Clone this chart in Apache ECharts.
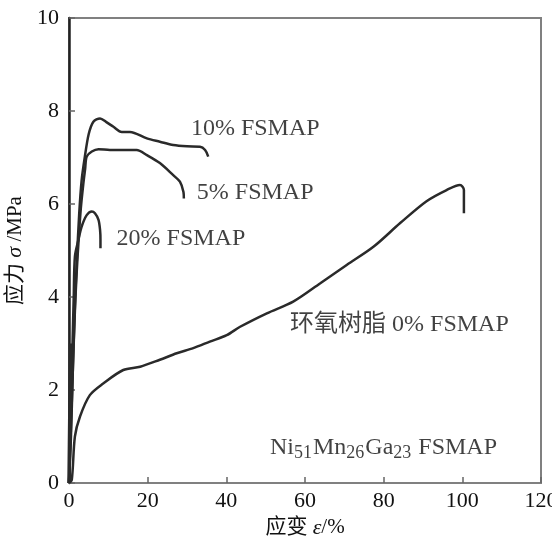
<!DOCTYPE html>
<html>
<head>
<meta charset="utf-8">
<script src="https://cdn.jsdelivr.net/npm/echarts@6/dist/echarts.min.js"></script>
<style>
html, body { margin: 0; padding: 0; background: #fff; }
#main { width: 552px; height: 547px; }
</style>
</head>
<body>
<div id="main"></div>
<script>
// 坐标轴刻度
var xTicks = [0, 20, 40, 60, 80, 100, 120];
var yTicks = [0, 2, 4, 6, 8, 10];

// 应力-应变曲线 [应变 %, 应力 MPa]
var curve10 = [[0,0],[0.5,1.0],[1,2.5],[1.5,3.8],[2,4.8],[2.6,5.8],[3.2,6.5],[4,7.0],[5,7.5],[6.2,7.77],[7.9,7.84],[9.5,7.76],[11.3,7.66],[13.4,7.55],[15.5,7.55],[19.8,7.41],[23.1,7.34],[26.5,7.27],[30,7.24],[33.3,7.23],[34.6,7.16],[35.4,7.02]];
var curve5 = [[0,0],[0.5,1.2],[1,2.5],[1.5,3.7],[2,4.6],[2.5,5.3],[3,5.9],[3.6,6.4],[4.1,6.75],[4.5,7.02],[5.8,7.13],[7.5,7.18],[10.4,7.16],[14.7,7.16],[17.2,7.16],[19.8,7.05],[23.1,6.88],[26.5,6.62],[28.2,6.48],[29.1,6.26],[29.2,6.12]];
var curve20 = [[0,0],[0.3,1.0],[0.6,2.0],[0.9,3.0],[1.2,4.0],[1.5,4.87],[2.4,5.23],[3.2,5.51],[4.5,5.76],[5.8,5.84],[6.6,5.80],[7.5,5.66],[7.9,5.44],[8.0,5.23],[8.0,5.05]];
var curve0 = [[0,0],[0.7,0.06],[1.5,1.0],[2.8,1.43],[5.3,1.89],[8.7,2.14],[13.8,2.43],[18.1,2.50],[23.1,2.65],[27.4,2.79],[31.6,2.90],[35.8,3.04],[40.1,3.18],[43.5,3.36],[50.3,3.65],[57.0,3.90],[63.8,4.29],[70.6,4.69],[77.4,5.08],[84.2,5.59],[90.9,6.06],[96.0,6.30],[99.4,6.41],[100.4,6.30],[100.4,5.80]];
var curveNi = [[0,0],[0.2,1.5],[0.4,3.0]];

// 标注文字 [x, y, 文本]
var notes = [
    [31.0, 7.63, '10% FSMAP'],
    [32.5, 6.24, '5% FSMAP'],
    [12.1, 5.26, '20% FSMAP'],
    [56.2, 3.40, '环氧树脂 0% FSMAP'],
    [51.1, 0.75, 'Ni{s|51}Mn{s|26}Ga{s|23} FSMAP']
];

var serif = '"Liberation Serif", "Noto Sans CJK SC", serif';

function lineSeries(data, w) {
    return {
        type: 'line',
        data: data,
        showSymbol: false,
        smooth: 0.3,
        lineStyle: { color: '#2a2a2a', width: w || 2.5 },
        silent: true
    };
}

var nameRich = {
    n: { fontFamily: serif, fontSize: 21, color: '#111' },
    i: { fontFamily: serif, fontSize: 22, fontStyle: 'italic', color: '#111' }
};

var chart = echarts.init(document.getElementById('main'));
chart.setOption({
    backgroundColor: '#fff',
    animation: false,
    grid: {
        left: 69, right: 11, top: 18, bottom: 64,
        outerBoundsMode: 'none', containLabel: false,
        show: true, borderColor: '#808080', borderWidth: 2, backgroundColor: 'transparent'
    },
    xAxis: {
        type: 'value',
        min: xTicks[0], max: xTicks[xTicks.length - 1], interval: 20,
        name: '{n|应变 }{i|ε}{n|/%}',
        nameLocation: 'middle',
        nameGap: 33,
        nameTextStyle: { rich: nameRich },
        axisLine: { show: true, onZero: false, lineStyle: { color: '#808080', width: 2 } },
        axisTick: { show: true, inside: true, length: 6, lineStyle: { color: '#666', width: 1.5 } },
        axisLabel: { fontFamily: serif, fontSize: 22, color: '#111', margin: 7 },
        splitLine: { show: false }
    },
    yAxis: {
        type: 'value',
        min: yTicks[0], max: yTicks[yTicks.length - 1], interval: 2,
        name: '{n|应力 }{i|σ}{n| /MPa}',
        nameLocation: 'middle',
        nameGap: 40,
        nameTextStyle: { rich: nameRich },
        axisLine: { show: true, onZero: false, lineStyle: { color: '#222', width: 2.5 } },
        axisTick: { show: true, inside: true, length: 6, lineStyle: { color: '#666', width: 1.5 } },
        axisLabel: { fontFamily: serif, fontSize: 22, color: '#111', margin: 10 },
        splitLine: { show: false }
    },
    series: [
        lineSeries(curve10),
        lineSeries(curve5),
        lineSeries(curve20),
        lineSeries(curve0),
        lineSeries(curveNi, 3.5),
        {
            type: 'scatter',
            data: notes.map(function (n) { return { value: [n[0], n[1]], name: n[2] }; }),
            symbolSize: 0,
            silent: true,
            label: {
                show: true,
                position: 'right',
                distance: 0,
                formatter: function (p) { return p.name; },
                fontFamily: serif,
                fontSize: 24,
                color: '#111',
                rich: {
                    s: { fontFamily: serif, fontSize: 18, color: '#111', verticalAlign: 'bottom', padding: [10, 1, 0, 0] }
                }
            }
        }
    ]
});
</script>
</body>
</html>
